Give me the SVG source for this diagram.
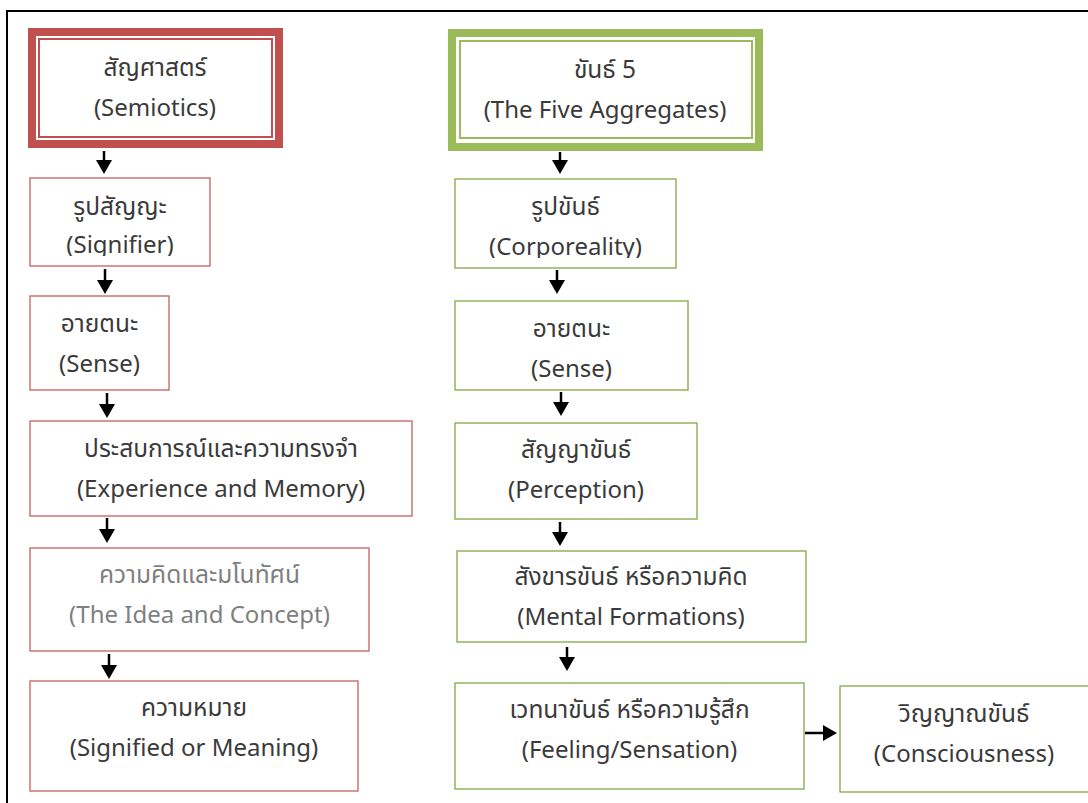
<svg xmlns="http://www.w3.org/2000/svg" width="1088" height="803" viewBox="0 0 1088 803">
  <style>
    .t { font-family: "Noto Sans Thai", "Noto Sans", "DejaVu Sans", sans-serif; font-size: 24px; fill: #3a3a3a; text-anchor: middle; }
    .th { font-size: 24.5px; }
    .g { fill: #7f7f7f; }
    .red { fill: #ffffff; stroke: #c0504d; stroke-width: 1.4; stroke-opacity: 0.85; }
    .grn { fill: #ffffff; stroke: #8cae4f; stroke-width: 1.4; }
    .arr { stroke: #000; stroke-width: 2.5; fill: none; marker-end: url(#ah); }
  </style>
  <defs>
    <marker id="ah" markerUnits="userSpaceOnUse" viewBox="0 0 14 16" markerWidth="14" markerHeight="16" refX="8" refY="8" orient="auto">
      <path d="M0,0 L14,8 L0,16 z" fill="#000"/>
    </marker>
    <clipPath id="clipL1"><rect x="30" y="178" width="180" height="78"/></clipPath>
    <clipPath id="clipR1"><rect x="455" y="179" width="221" height="79"/></clipPath>
  </defs>
  <rect x="0" y="0" width="1088" height="803" fill="#ffffff"/>
  <g id="frame" stroke="#000" stroke-width="2" fill="none">
    <path d="M7,803 L7,11 L1088,11"/>
  </g>

  <g id="semiotics">
    <rect x="32" y="32" width="247" height="112" fill="#fff" stroke="#c0504d" stroke-width="8"/>
    <rect x="39" y="39" width="233" height="98" fill="none" stroke="#c0504d" stroke-width="2"/>
    <text class="t th" x="155" y="76">สัญศาสตร์</text>
    <text class="t" x="155" y="116">(Semiotics)</text>
  </g>

  <g id="aggregates">
    <rect x="452" y="33" width="307" height="114" fill="#fff" stroke="#9bbb59" stroke-width="8"/>
    <rect x="460" y="41" width="292" height="97" fill="none" stroke="#9bbb59" stroke-width="2"/>
    <text class="t th" x="605" y="78">ขันธ์ 5</text>
    <text class="t" x="605" y="118">(The Five Aggregates)</text>
  </g>

  <g id="signifier">
    <rect class="red" x="30" y="178" width="180" height="88"/>
    <text class="t th" x="120" y="215">รูปสัญญะ</text>
    <text class="t" x="120" y="253" clip-path="url(#clipL1)">(Signifier)</text>
  </g>
  <g id="sense-left">
    <rect class="red" x="30" y="296" width="139" height="94"/>
    <text class="t th" x="99.5" y="332">อายตนะ</text>
    <text class="t" x="99.5" y="372">(Sense)</text>
  </g>
  <g id="experience">
    <rect class="red" x="30" y="421" width="382" height="95"/>
    <text class="t th" x="221" y="457">ประสบการณ์และความทรงจำ</text>
    <text class="t" x="221" y="497">(Experience and Memory)</text>
  </g>
  <g id="idea">
    <rect class="red" x="30" y="548" width="339" height="103"/>
    <text class="t th g" x="199.5" y="583">ความคิดและมโนทัศน์</text>
    <text class="t g" x="199.5" y="623">(The Idea and Concept)</text>
  </g>
  <g id="meaning">
    <rect class="red" x="30" y="681" width="328" height="110"/>
    <text class="t th" x="194" y="716">ความหมาย</text>
    <text class="t" x="194" y="756">(Signified or Meaning)</text>
  </g>

  <g id="corporeality">
    <rect class="grn" x="455" y="179" width="221" height="89"/>
    <text class="t th" x="565.5" y="215">รูปขันธ์</text>
    <text class="t" x="565.5" y="255" clip-path="url(#clipR1)">(Corporeality)</text>
  </g>
  <g id="sense-right">
    <rect class="grn" x="455" y="301" width="233" height="89"/>
    <text class="t th" x="571.5" y="337">อายตนะ</text>
    <text class="t" x="571.5" y="377">(Sense)</text>
  </g>
  <g id="perception">
    <rect class="grn" x="455" y="423" width="242" height="96"/>
    <text class="t th" x="576" y="458">สัญญาขันธ์</text>
    <text class="t" x="576" y="498">(Perception)</text>
  </g>
  <g id="mental">
    <rect class="grn" x="457" y="551" width="349" height="91"/>
    <text class="t th" x="631" y="585">สังขารขันธ์ หรือความคิด</text>
    <text class="t" x="631" y="625">(Mental Formations)</text>
  </g>
  <g id="feeling">
    <rect class="grn" x="455" y="683" width="349" height="106"/>
    <text class="t th" x="629.5" y="718">เวทนาขันธ์ หรือความรู้สึก</text>
    <text class="t" x="629.5" y="758">(Feeling/Sensation)</text>
  </g>
  <g id="consciousness">
    <rect class="grn" x="840" y="686" width="252" height="106"/>
    <text class="t th" x="964" y="722">วิญญาณขันธ์</text>
    <text class="t" x="964" y="762">(Consciousness)</text>
  </g>

  <g id="connectors">
    <line class="arr" x1="104" y1="151" x2="104" y2="168"/>
    <line class="arr" x1="105" y1="269" x2="105" y2="288"/>
    <line class="arr" x1="107" y1="393" x2="107" y2="412"/>
    <line class="arr" x1="107" y1="518" x2="107" y2="537"/>
    <line class="arr" x1="109" y1="654" x2="109" y2="673"/>
    <line class="arr" x1="560" y1="152" x2="560" y2="168"/>
    <line class="arr" x1="557" y1="270" x2="557" y2="288"/>
    <line class="arr" x1="561" y1="392" x2="561" y2="410"/>
    <line class="arr" x1="560" y1="522" x2="560" y2="540"/>
    <line class="arr" x1="567" y1="647" x2="567" y2="665"/>
    <line class="arr" x1="805" y1="733" x2="831" y2="733"/>
  </g>
</svg>
